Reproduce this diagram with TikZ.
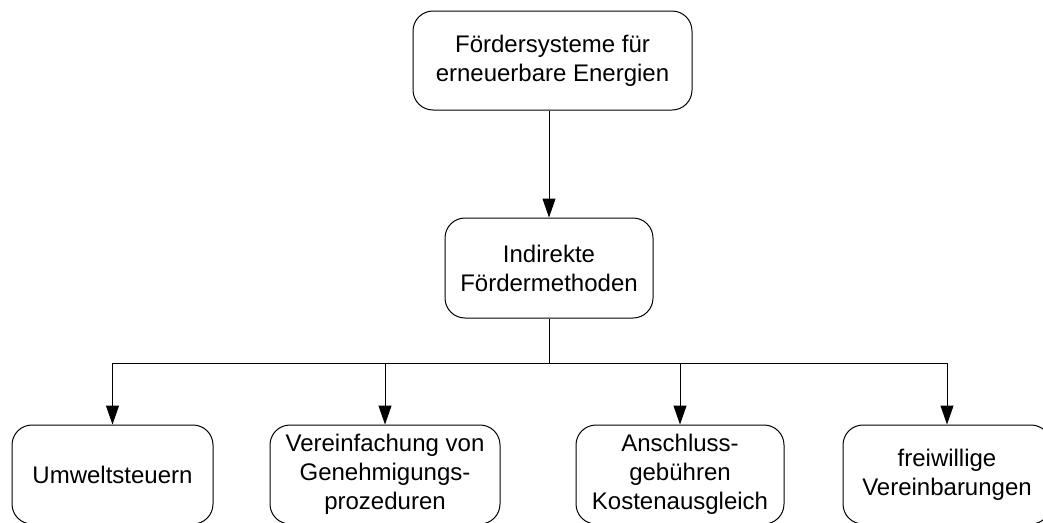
\documentclass[tikz,border=0pt]{standalone}
\usepackage{fontspec}
\setmainfont{Liberation Sans}
\usetikzlibrary{arrows.meta}

\begin{document}
\begin{tikzpicture}[x=1pt,y=-1pt,
  box/.style={draw,line width=1pt,rounded corners=20pt,align=center,inner sep=0pt,
    minimum height=99pt,font=\fontsize{24pt}{29pt}\selectfont},
  link/.style={line width=1pt,-{Triangle[width=13pt,length=19pt]}}]
\path[use as bounding box,clip] (0,0) rectangle (1043,522);

\node[box,minimum width=279pt] (foerder) at (552.5,60.5) {Fördersysteme für\\erneuerbare Energien};
\node[box,minimum width=208pt,minimum height=100pt] (indirekt) at (549,268) {Indirekte\\Fördermethoden};

\node[box,minimum width=201pt] (steuern) at (112.5,474.5) {Umweltsteuern};
\node[box,minimum width=230pt] (genehm) at (385,474.5) {Vereinfachung von\\Genehmigungs-\\prozeduren};
\node[box,minimum width=208pt] (anschluss) at (680,474.5) {Anschluss-\\gebühren\\Kostenausgleich};
\node[box,minimum width=208pt] (freiw) at (947,474.5) {freiwillige\\Vereinbarungen};

\coordinate (verteil) at (549,363);

\draw[link] (foerder.south -| indirekt.north) -- (indirekt.north);
\draw[line width=1pt] (indirekt.south) -- (verteil);
\draw[link] (verteil) -| (steuern.north);
\draw[link] (verteil) -| (genehm.north);
\draw[link] (verteil) -| (anschluss.north);
\draw[link] (verteil) -| (freiw.north);
\end{tikzpicture}
\end{document}
